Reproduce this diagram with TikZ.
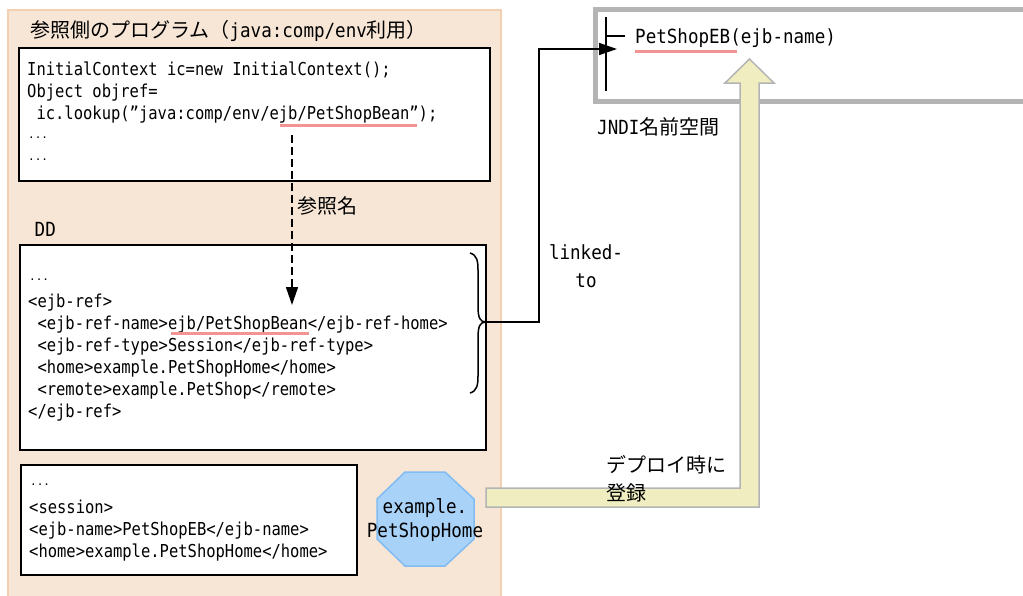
\documentclass[tikz,border=0pt]{standalone}
\usepackage{fontspec}
\setmainfont{Noto Sans CJK JP}
\newfontfamily\monofont[FakeStretch=0.87]{DejaVu Sans Mono}
\newfontfamily\monolbl[FakeStretch=0.9]{DejaVu Sans Mono}
\newfontfamily\monodots{DejaVu Sans Mono}
\usetikzlibrary{arrows.meta}
\definecolor{peach}{HTML}{F7E6D6}
\definecolor{peachline}{HTML}{F2D0B0}
\definecolor{uline}{HTML}{F39494}
\definecolor{jndigray}{HTML}{B4B4B4}
\definecolor{arrowfill}{HTML}{F0EEC0}
\definecolor{octfill}{HTML}{A9D2F9}
\definecolor{octline}{HTML}{80BCF2}
\newcommand{\mfl}{\monolbl\fontsize{19.5}{24}\selectfont}
\begin{document}
\begin{tikzpicture}[x=1pt,y=-1pt,
  code/.style={anchor=base west, inner sep=0pt, font=\monofont\fontsize{17.8}{22}\selectfont},
  dots/.style={anchor=base west, inner sep=0pt, font=\monodots\fontsize{11}{12}\selectfont},
  lbl/.style={inner sep=0pt, font=\mfl},
  jp/.style={anchor=base west, inner sep=0pt, font=\fontsize{20}{26}\selectfont},
  box/.style={draw=black, line width=1.5pt, fill=white},
  ul/.style={draw=uline, line width=3pt},
  link/.style={draw=black, line width=1.5pt},
]
\useasboundingbox (0,0) rectangle (1023,595);
% peach background
\fill[peach, draw=peachline, line width=1.5pt] (8,10) rectangle (501,610);
% title
\node[jp] (title) at (30,37) {参照側のプログラム（{\mfl java:comp/env}利用）};
% program box
\draw[box] (19,48) rectangle (490,181);
\node[code] (p1) at (27,75) {InitialContext ic=new InitialContext();};
\node[code] (p2) at (27,97) {Object objref=};
\node[code] (p3) at (27,119) {\ ic.lookup(”java:comp/env/ejb/PetShopBean”);};
\node[dots] (p4) at (28,138) {...};
\node[dots] (p5) at (28,160) {...};
\draw[ul] (280,125) -- (417,125);
\node[jp] (refname) at (297,213) {参照名};
% DD
\node[lbl, anchor=base west] (ddlbl) at (34.5,236) {DD};
\draw[box] (20,245) rectangle (486,450);
\node[dots] (d0) at (29,280) {...};
\node[code] (d1) at (28,307) {<ejb-ref>};
\node[code] (d2) at (28,329) {\ <ejb-ref-name>ejb/PetShopBean</ejb-ref-home>};
\node[code] (d3) at (28,351) {\ <ejb-ref-type>Session</ejb-ref-type>};
\node[code] (d4) at (28,373) {\ <home>example.PetShopHome</home>};
\node[code] (d5) at (28,395) {\ <remote>example.PetShop</remote>};
\node[code] (d6) at (28,417) {</ejb-ref>};
\draw[ul] (171,333.5) -- (309,333.5);
% dashed reference arrow
\coordinate (refsrc) at (292,135);
\coordinate (reftgt) at (292,305);
\draw[link, dash pattern=on 8pt off 4pt, -{Triangle[length=18pt,width=12pt]}] (refsrc) -- (reftgt);
% brace
\coordinate (bracetip) at (486,322);
\draw[line width=1.5pt] (470,253) .. controls (477,255) and (478,261) .. (478,270) -- (478,306)
  .. controls (478,318) and (480,322) .. (bracetip)
  .. controls (480,322) and (478,326) .. (478,338) -- (478,376)
  .. controls (478,385) and (477,391) .. (470,393);
% session box
\draw[box] (21,465) rectangle (357,575);
\node[dots] (s0) at (30,485) {...};
\node[code] (s1) at (29,513) {<session>};
\node[code] (s2) at (29,535) {<ejb-name>PetShopEB</ejb-name>};
\node[code] (s3) at (29,557) {<home>example.PetShopHome</home>};
% octagon
\draw[fill=octfill, draw=octline, line width=1.5pt]
  (405,472) -- (445,472) -- (474,499) -- (474,539) -- (445,566) -- (405,566) -- (377,539) -- (377,499) -- cycle;
\node[lbl, anchor=base] (oct1) at (425,513) {example.};
\node[lbl, anchor=base] (oct2) at (425,537) {PetShopHome};
% JNDI box
\draw[jndigray, line width=5pt] (595.5,9.5) rectangle (1050,101.5);
\node[jp] (jndi) at (597,134) {{\mfl JNDI}名前空間};
\draw[line width=1.5pt] (606,17) -- (606,91);
\draw[line width=1.5pt] (606,36) -- (625,36);
\node[lbl, anchor=base west] (petshop) at (635,43) {PetShopEB(ejb-name)};
\draw[ul] (635,51) -- (737,51);
% yellow deploy arrow
\draw[fill=arrowfill, draw=jndigray, line width=1.5pt]
  (486,488) -- (740,488) -- (740,83) -- (725,83) -- (749.5,59) -- (774,83) -- (759,83) -- (759,507) -- (486,507) -- cycle;
\node[jp] (deploy) at (606,472) {デプロイ時に};
\node[jp] (deploy2) at (606,500) {登録};
% linked-to connector
\coordinate (jndientry) at (617,49);
\draw[link, -{Triangle[length=18pt,width=12pt]}] (bracetip) -- ++(53,0) |- (jndientry);
\node[lbl, align=center, anchor=base] (linked) at (586,287) {linked-\\[4pt]to};
\end{tikzpicture}
\end{document}
